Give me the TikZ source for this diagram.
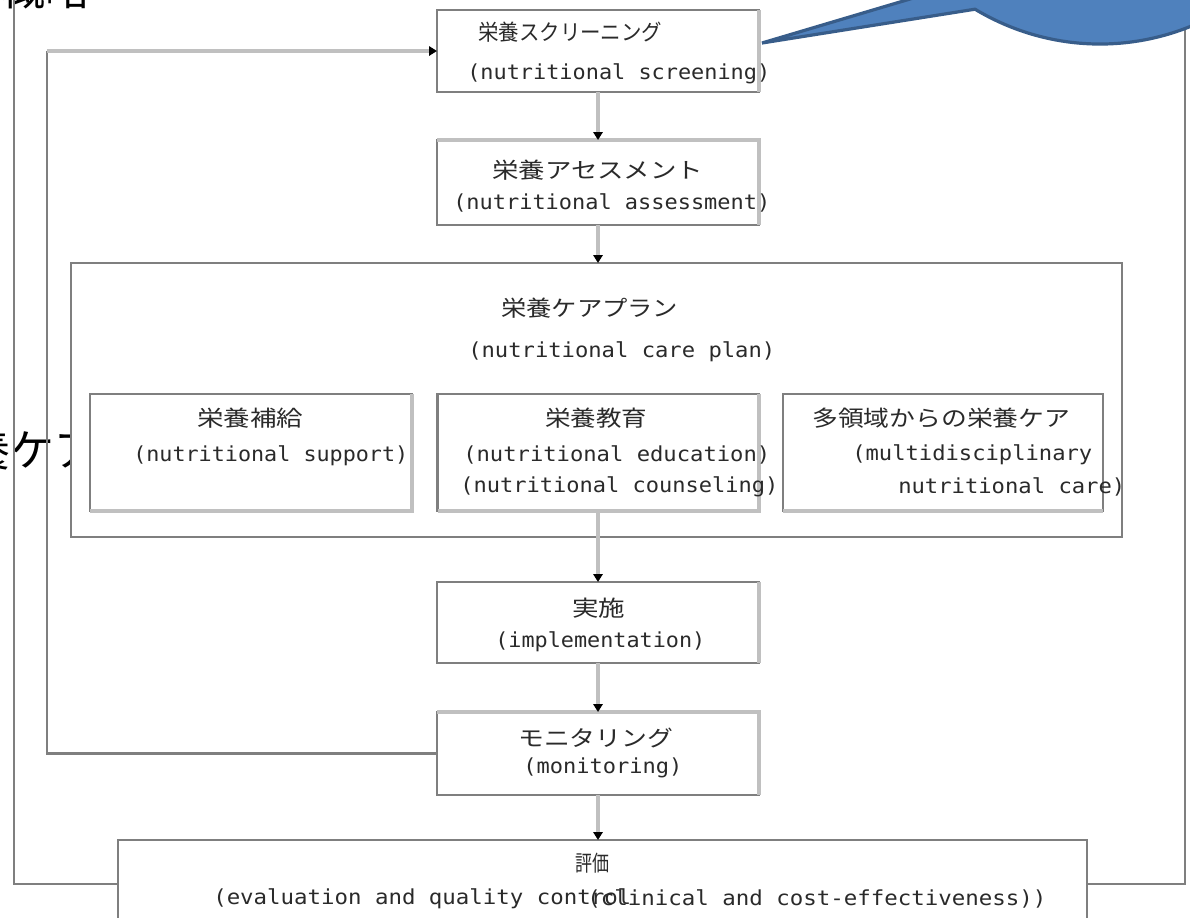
\documentclass[tikz,border=0pt]{standalone}
\usepackage{fontspec}
\usepackage{graphicx}
\setmainfont{Noto Sans CJK JP}
\newfontfamily\jpf{Noto Sans CJK JP}
\newfontfamily\monof{DejaVu Sans Mono}
\usetikzlibrary{arrows.meta,calc}
\newlength\pxu \setlength\pxu{0.75pt}
\newcommand\fw[2]{\resizebox{#1\pxu}{\height}{#2}}
\definecolor{bgray}{HTML}{7F7F7F}
\definecolor{lgray}{HTML}{C0C0C0}
\definecolor{tgray}{HTML}{2A2A2A}
\definecolor{cfill}{HTML}{4F81BD}
\definecolor{cline}{HTML}{385D8A}
\begin{document}
\begin{tikzpicture}[x=0.75pt,y=-0.75pt,
  box/.style={rectangle,draw=bgray,line width=2pt,fill=white,inner sep=0pt,outer sep=0pt},
  ledge/.style={draw=lgray,line width=3pt},
  jtxt/.style={inner sep=0pt,anchor=west,text=tgray,font=\jpf\fontsize{16.5pt}{18pt}\selectfont},
  etxt/.style={inner sep=0pt,anchor=west,text=tgray,font=\monof\fontsize{15.5pt}{18pt}\selectfont},
  bigtxt/.style={inner sep=0pt,anchor=base west,text=black,font=\jpf\fontsize{33pt}{36pt}\selectfont},
  flow/.style={draw=lgray,line width=2.4pt,-{Triangle[length=6pt,width=7pt,color=black]}},
  dline/.style={draw=bgray,line width=2pt},
  callout/.style={fill=cfill,draw=cline,line width=2.4pt,line join=miter}]
\useasboundingbox (0,0) rectangle (1190,918);
\fill[white] (0,0) rectangle (1190,918);
\clip (0,0) rectangle (1190,918);

% background large texts (partly hidden)
\node[bigtxt] (toptxt) at (1,5) {概略};
\node[bigtxt] (lefttxt) at (-78,466) {栄養ケア};

% nodes
\node[box,minimum width=322\pxu,minimum height=82\pxu] (scr) at (598,51) {};
\node[box,minimum width=322\pxu,minimum height=85\pxu] (ass) at (598,182.5) {};
\node[box,minimum width=969\pxu,minimum height=88\pxu] (eva) at (602.5,884) {};

% outer return lines
\coordinate (olt) at (14,-5);
\coordinate (orb) at (1185,884);
\coordinate (ort) at (1185,20);
\draw[dline] (eva.west) -- (eva.west -| olt) -- (olt);
\draw[dline] (eva.east) -- (orb) -- (ort);

\node[box,minimum width=1051\pxu,minimum height=274\pxu] (plan) at (596.5,400) {};
\node[box,minimum width=322\pxu,minimum height=117\pxu] (sup) at (251,452.5) {};
\node[box,minimum width=321\pxu,minimum height=117\pxu] (edu) at (598,452.5) {};
\node[box,minimum width=320\pxu,minimum height=117\pxu] (mul) at (943,452.5) {};
\node[box,minimum width=322\pxu,minimum height=81\pxu] (imp) at (598,622.5) {};
\node[box,minimum width=322\pxu,minimum height=83\pxu] (mon) at (598,753.5) {};

% light edges (rendering shading)
\draw[ledge] (scr.north east) -- (scr.south east);
\draw[ledge] (ass.north west) -- (ass.north east) -- (ass.south east);
\draw[ledge] (imp.north east) -- (imp.south east);
\draw[ledge] (mon.north west) -- (mon.north east) -- (mon.south east);
\draw[ledge] (sup.north east) -- (sup.south east) -- (sup.south west);
\draw[ledge] (edu.north east) -- (edu.south east) -- (edu.south west);
\draw[ledge] (mul.south east) -- (mul.south west);

% feedback line
\coordinate (fbx) at (47,0);
\coordinate (fbb) at (mon.west -| fbx);
\coordinate (fbt) at (scr.west -| fbx);
\draw[dline] (mon.west) -- (fbb) -- (fbt);
\draw[flow] (fbt) -- (scr.west);

% flow arrows
\draw[flow] (scr.south) -- (ass.north);
\draw[flow] (ass.south) -- (ass.south |- plan.north);
\draw[flow] (edu.south) -- (imp.north);
\draw[flow] (imp.south) -- (mon.north);
\draw[flow] (mon.south) -- (mon.south |- eva.north);

% callout
\draw[callout] (762,43) coordinate (ctip) -- (975,9.2) arc[start angle=120,end angle=15,x radius=250,y radius=260] -- (1400,-300) -- (980,-300) -- (974,-20) -- cycle;

% texts
\node[jtxt] (t1a) at (478,32) {\fw{184}{栄養スクリーニング}};
\node[etxt] (t1b) at (467,74) {\fw{303}{(nutritional screening)}};
\node[jtxt] (t2a) at (492,170) {\fw{211}{栄養アセスメント}};
\node[etxt] (t2b) at (453,203) {\fw{317}{(nutritional assessment)}};
\node[jtxt] (t3a) at (501,308) {\fw{177}{栄養ケアプラン}};
\node[etxt] (t3b) at (468,352) {\fw{307}{(nutritional care plan)}};
\node[jtxt] (t4a) at (197,418) {\fw{106}{栄養補給}};
\node[etxt] (t4b) at (133,456) {\fw{275}{(nutritional support)}};
\node[jtxt] (t5a) at (545,418) {\fw{102}{栄養教育}};
\node[etxt] (t5b) at (463,455) {\fw{307}{(nutritional education)}};
\node[etxt] (t5c) at (460,487) {\fw{318}{(nutritional counseling)}};
\node[jtxt] (t6a) at (812,418) {\fw{258}{多領域からの栄養ケア}};
\node[etxt] (t6b) at (852,455) {\fw{240}{(multidisciplinary}};
\node[etxt] (t6c) at (898,487) {\fw{227}{nutritional care)}};
\node[jtxt] (t7a) at (572,608) {\fw{53}{実施}};
\node[etxt] (t7b) at (495,642) {\fw{210}{(implementation)}};
\node[jtxt] (t8a) at (518,738) {\fw{155}{モニタリング}};
\node[etxt] (t8b) at (523,768) {\fw{159}{(monitoring)}};
\node[jtxt] (t9a) at (575,863) {\fw{34}{評価}};
\node[etxt] (t9b) at (213,899) {\fw{418}{(evaluation and quality control}};
\node[etxt] (t9c) at (587,899) {\fw{459}{(clinical and cost-effectiveness))}};
\end{tikzpicture}
\end{document}
